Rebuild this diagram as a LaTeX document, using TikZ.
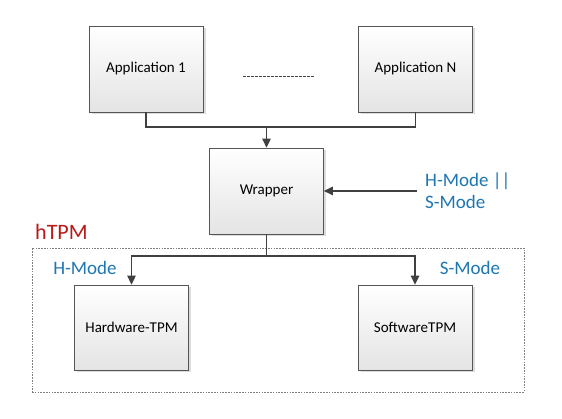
\documentclass[tikz,border=0pt]{standalone}
\usepackage{fontspec}
\setmainfont{Carlito}
\usetikzlibrary{arrows.meta,shadows}
\definecolor{boxborder}{RGB}{85,85,85}
\definecolor{boxbot}{RGB}{228,228,228}
\definecolor{linecol}{RGB}{64,64,64}
\definecolor{modeblue}{RGB}{30,118,178}
\definecolor{htpmred}{RGB}{185,25,25}
\begin{document}
\begin{tikzpicture}[x=1pt,y=1pt,
  box/.style={draw=boxborder, line width=0.8pt, top color=white, bottom color=boxbot,
    drop shadow={shadow xshift=2.5pt, shadow yshift=-2.5pt, fill=black!30, opacity=0.45},
    minimum width=114pt, minimum height=86pt, inner sep=0pt,
    font=\fontsize{15}{18}\selectfont},
  conn/.style={draw=linecol, line width=1.4pt},
  arr/.style={conn, -{Triangle[length=9pt,width=8.5pt]}},
  modelabel/.style={text=modeblue, font=\fontsize{19}{22}\selectfont, inner sep=0pt, align=left},
  frame/.style={draw=black!50, line width=0.6pt, dash pattern=on 1.6pt off 1.2pt, inner sep=0pt}
]
\useasboundingbox[fill=white] (0,0) rectangle (562,419);

\node[frame, minimum width=492pt, minimum height=144pt] (grp) at (278,99) {};

\node[box] (app1) at (146,350) {Application 1};
\node[box] (appN) at (415.5,350) {Application N};
\node[box] (wrap) at (266.5,228) {Wrapper};
\node[box, minimum height=85pt] (hw) at (131.5,91.5) {Hardware-TPM};
\node[box, minimum height=85pt] (sw) at (415,91.5) {SoftwareTPM};

\coordinate (d1) at (243,343);
\coordinate (d2) at (315,343);
\draw[draw=linecol, line width=0.7pt, dash pattern=on 2.5pt off 1.5pt] (d1) -- (d2);

\coordinate (join) at (266.5,292);
\draw[conn] (app1.south) |- (join) -| (appN.south);
\draw[arr] (join) -- (wrap.north);

\coordinate (modein) at (417,228);
\draw[arr] (modein) -- (wrap.east);
\node[modelabel, anchor=west] (modes) at (425,228) {H-Mode ||\\S-Mode};

\node[text=htpmred, font=\fontsize{22}{25}\selectfont, inner sep=0pt, anchor=west] (htpm) at (35,187) {hTPM};

\coordinate (split) at (266.5,163);
\draw[conn] (wrap.south) -- (split);
\draw[arr] (split) -| (hw.north);
\draw[arr] (split) -| (sw.north);

\node[modelabel] (hmode) at (85,151) {H-Mode};
\node[modelabel] (smode) at (470,151) {S-Mode};
\end{tikzpicture}
\end{document}
